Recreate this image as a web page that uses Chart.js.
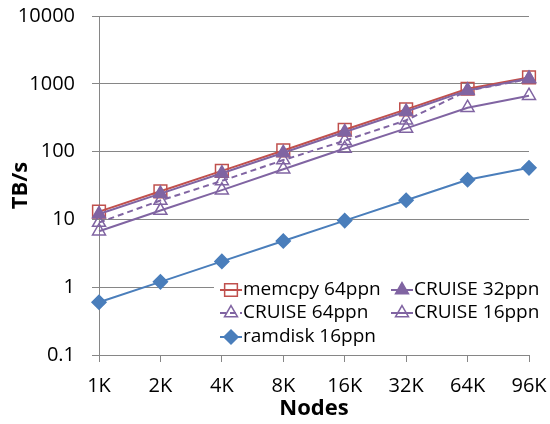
<!DOCTYPE html>
<html>
<head>
<meta charset="utf-8">
<script src="https://cdn.jsdelivr.net/npm/chart.js@4/dist/chart.umd.min.js"></script>
<style>
  html, body { margin: 0; padding: 0; background: #fff; }
  #wrap { width: 550px; height: 424px; }
</style>
</head>
<body>
<div id="wrap"><canvas id="chart" width="550" height="424"></canvas></div>
<script>
// Data
var nodes = ['1K', '2K', '4K', '8K', '16K', '32K', '64K', '96K'];
var memcpy64 = [13, 26, 52, 104, 210, 420, 845, 1240];
var cruise32 = [12, 24, 48, 96, 195, 390, 800, 1200];
var cruise64 = [9, 19, 37, 75, 145, 290, 790, 1180];
var cruise16 = [6.7, 13.5, 27, 55, 111, 220, 444, 667];
var ramdisk16 = [0.6, 1.2, 2.4, 4.8, 9.6, 19.2, 38.4, 57.6];
var yTicks = [0.1, 1, 10, 100, 1000, 10000];

var colors = {
  red: '#C0504D',
  purple: '#8064A2',
  blue: '#4A7EBB',
  grid: '#868686'
};

var font = "'Open Sans', sans-serif";

// Legend drawn inside the plot, two columns like the original
var legendBox = {
  id: 'legendBox',
  afterDraw: function(chart) {
    var ctx = chart.ctx;
    var ds = chart.data.datasets;
    // placement of each entry: [dataset index, x of sample, y]
    var slots = [[0, 220, 290], [1, 391, 290], [2, 220, 313], [3, 391, 313], [4, 220, 337]];
    ctx.save();
    ctx.fillStyle = '#fff';
    ctx.fillRect(214, 277, 332, 73);
    slots.forEach(function(s) {
      var d = ds[s[0]];
      var x = s[1], y = s[2];
      ctx.save();
      ctx.strokeStyle = d.borderColor;
      ctx.lineWidth = 2;
      ctx.setLineDash(d.borderDash || []);
      ctx.beginPath();
      ctx.moveTo(x, y);
      ctx.lineTo(x + 22, y);
      ctx.stroke();
      ctx.setLineDash([]);
      ctx.fillStyle = d.pointBackgroundColor;
      ctx.strokeStyle = d.pointBorderColor;
      ctx.lineWidth = d.pointBorderWidth;
      Chart.helpers.drawPoint(ctx, {
        pointStyle: d.pointStyle,
        radius: d.pointRadius,
        rotation: 0,
        borderWidth: d.pointBorderWidth
      }, x + 11, y);
      ctx.restore();
      ctx.fillStyle = '#000';
      ctx.font = '19px ' + font;
      ctx.textAlign = 'left';
      ctx.textBaseline = 'middle';
      ctx.fillText(d.label, x + 23, y);
    });
    ctx.restore();
  }
};

function series(label, data, color, style, radius, fill, dash, order) {
  return {
    label: label,
    data: data,
    borderColor: color,
    borderWidth: 2,
    borderDash: dash,
    pointStyle: style,
    pointRadius: radius,
    pointHoverRadius: radius,
    pointBorderWidth: 1.5,
    pointBorderColor: color,
    pointBackgroundColor: fill,
    tension: 0,
    order: order
  };
}

new Chart(document.getElementById('chart'), {
  type: 'line',
  data: {
    labels: nodes,
    datasets: [
      series('memcpy 64ppn', memcpy64, colors.red, 'rect', 9, 'rgba(0,0,0,0)', [], 5),
      series('CRUISE 32ppn', cruise32, colors.purple, 'triangle', 7.5, colors.purple, [], 1),
      series('CRUISE 64ppn', cruise64, colors.purple, 'triangle', 7.5, 'rgba(0,0,0,0)', [6, 4], 3),
      series('CRUISE 16ppn', cruise16, colors.purple, 'triangle', 7.5, 'rgba(0,0,0,0)', [], 4),
      series('ramdisk 16ppn', ramdisk16, colors.blue, 'rectRot', 7, colors.blue, [], 2)
    ]
  },
  options: {
    responsive: false,
    animation: false,
    layout: { padding: { top: 16, right: 21, left: 0, bottom: 0 } },
    plugins: {
      legend: { display: false },
      tooltip: { enabled: false }
    },
    scales: {
      x: {
        offset: false,
        grid: { display: true, drawOnChartArea: false, drawTicks: true, tickLength: 7, color: colors.grid },
        border: { color: colors.grid, width: 1 },
        ticks: { color: '#000', font: { family: font, size: 20 }, padding: 12, maxRotation: 0, autoSkip: false },
        title: { display: true, text: 'Nodes', color: '#000', font: { family: font, size: 22, weight: 'bold' }, padding: { top: 0, bottom: 2 } },
        afterFit: function(s) {
          s.height = 69;
          s.paddingLeft = 0;
          s.paddingRight = 0;
        }
      },
      y: {
        type: 'logarithmic',
        min: 0.1,
        max: 10000,
        afterBuildTicks: function(s) {
          s.ticks = yTicks.map(function(v) { return { value: v }; });
        },
        grid: { color: colors.grid, tickLength: 7 },
        border: { color: colors.grid, width: 1 },
        ticks: {
          color: '#000',
          font: { family: font, size: 20 },
          padding: 17,
          callback: function(v) { return v < 1 ? '0.1' : String(v); }
        },
        title: { display: true, text: 'TB/s', color: '#000', font: { family: font, size: 22, weight: 'bold' }, padding: { top: 8, bottom: 0 } },
        afterFit: function(s) {
          s.width = 99;
          s.paddingTop = 0;
          s.paddingBottom = 0;
        }
      }
    }
  },
  plugins: [legendBox]
});
</script>
</body>
</html>
